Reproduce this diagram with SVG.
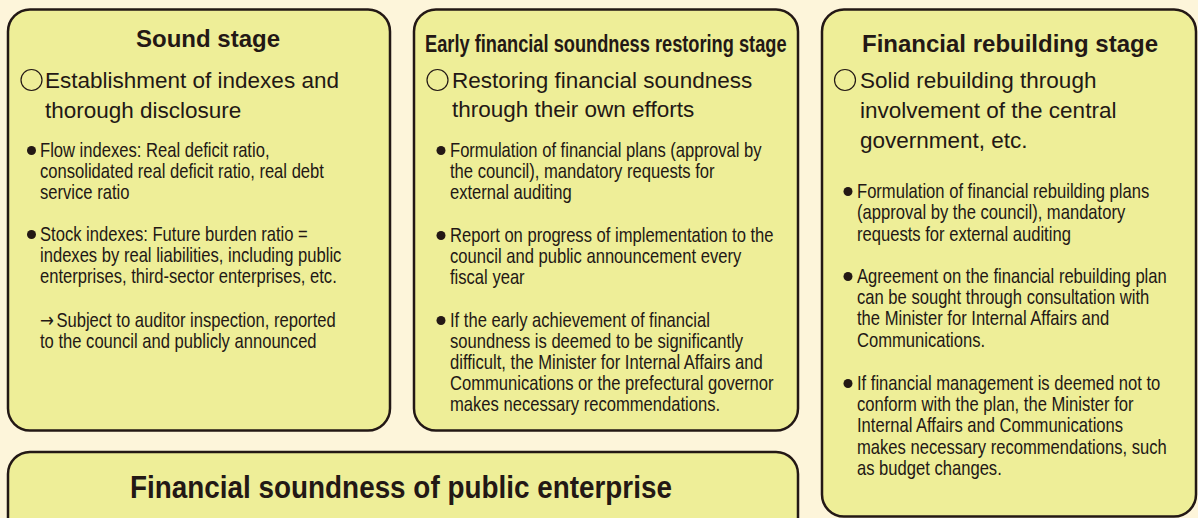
<svg xmlns="http://www.w3.org/2000/svg" width="1198" height="518" viewBox="0 0 1198 518">
<style>
.box{fill:#EEEE98;stroke:#231815;stroke-width:2.5}
.t{font-family:"Liberation Sans",Arial,sans-serif;fill:#231815}
.title{font-size:24px;font-weight:bold}
.sub{font-size:22.5px}
.body{font-size:20px}
.arr{font-family:"DejaVu Sans",sans-serif;font-size:20px}
.ring{fill:none;stroke:#231815;stroke-width:1.2}
.dot{fill:#231815}
</style>
<rect width="1198" height="518" fill="#FDF5DA"/>

<g id="sound-stage">
<rect class="box" x="8" y="9.5" width="382" height="421" rx="22"/>
<text class="t title" x="136" y="47">Sound stage</text>
<circle class="ring" cx="31.5" cy="80" r="10.5"/>
<text class="t sub" x="45" y="88">Establishment of indexes and</text>
<text class="t sub" x="45" y="118">thorough disclosure</text>
<circle class="dot" cx="31.5" cy="150.5" r="4.5"/>
<circle class="dot" cx="31.5" cy="234.5" r="4.5"/>
<g transform="translate(40,0) scale(0.83,1)">
<text class="t body" x="0" y="157">Flow indexes: Real deficit ratio,</text>
<text class="t body" x="0" y="178">consolidated real deficit ratio, real debt</text>
<text class="t body" x="0" y="199">service ratio</text>
<text class="t body" x="0" y="241">Stock indexes: Future burden ratio =</text>
<text class="t body" x="0" y="262">indexes by real liabilities, including public</text>
<text class="t body" x="0" y="283">enterprises, third-sector enterprises, etc.</text>
<text class="t body" x="0" y="327"><tspan class="arr">→</tspan><tspan dx="3">Subject to auditor inspection, reported</tspan></text>
<text class="t body" x="0" y="348">to the council and publicly announced</text>
</g>
</g>

<g id="early-restoring-stage">
<rect class="box" x="414" y="9.5" width="384" height="421" rx="22"/>
<g transform="translate(425,52) scale(0.76,1)">
<text class="t title" x="0" y="0">Early financial soundness restoring stage</text>
</g>
<circle class="ring" cx="437.5" cy="80" r="10.5"/>
<text class="t sub" x="452" y="88">Restoring financial soundness</text>
<text class="t sub" x="452" y="117">through their own efforts</text>
<circle class="dot" cx="441" cy="150.5" r="4.5"/>
<circle class="dot" cx="441" cy="235.5" r="4.5"/>
<circle class="dot" cx="441" cy="320.5" r="4.5"/>
<g transform="translate(450,0) scale(0.83,1)">
<text class="t body" x="0" y="157">Formulation of financial plans (approval by</text>
<text class="t body" x="0" y="178">the council), mandatory requests for</text>
<text class="t body" x="0" y="199">external auditing</text>
<text class="t body" x="0" y="242">Report on progress of implementation to the</text>
<text class="t body" x="0" y="263">council and public announcement every</text>
<text class="t body" x="0" y="284">fiscal year</text>
<text class="t body" x="0" y="327">If the early achievement of financial</text>
<text class="t body" x="0" y="348">soundness is deemed to be significantly</text>
<text class="t body" x="0" y="369">difficult, the Minister for Internal Affairs and</text>
<text class="t body" x="0" y="390">Communications or the prefectural governor</text>
<text class="t body" x="0" y="411">makes necessary recommendations.</text>
</g>
</g>

<g id="financial-rebuilding-stage">
<rect class="box" x="822" y="9.5" width="374" height="507" rx="22"/>
<text class="t title" x="862" y="52">Financial rebuilding stage</text>
<circle class="ring" cx="845" cy="80" r="10.5"/>
<text class="t sub" x="860" y="88">Solid rebuilding through</text>
<text class="t sub" x="860" y="118">involvement of the central</text>
<text class="t sub" x="860" y="148">government, etc.</text>
<circle class="dot" cx="848" cy="191.5" r="4.5"/>
<circle class="dot" cx="848" cy="276.5" r="4.5"/>
<circle class="dot" cx="848" cy="383.5" r="4.5"/>
<g transform="translate(857,0) scale(0.83,1)">
<text class="t body" x="0" y="198">Formulation of financial rebuilding plans</text>
<text class="t body" x="0" y="219">(approval by the council), mandatory</text>
<text class="t body" x="0" y="241">requests for external auditing</text>
<text class="t body" x="0" y="283">Agreement on the financial rebuilding plan</text>
<text class="t body" x="0" y="304">can be sought through consultation with</text>
<text class="t body" x="0" y="325">the Minister for Internal Affairs and</text>
<text class="t body" x="0" y="347">Communications.</text>
<text class="t body" x="0" y="390">If financial management is deemed not to</text>
<text class="t body" x="0" y="411">conform with the plan, the Minister for</text>
<text class="t body" x="0" y="432">Internal Affairs and Communications</text>
<text class="t body" x="0" y="454">makes necessary recommendations, such</text>
<text class="t body" x="0" y="475">as budget changes.</text>
</g>
</g>

<g id="public-enterprise">
<rect class="box" x="8" y="452" width="790" height="100" rx="22"/>
<g transform="translate(130,498) scale(0.871,1)">
<text class="t" x="0" y="0" font-size="32" font-weight="bold">Financial soundness of public enterprise</text>
</g>
</g>

<g id="connectors"/>
</svg>
